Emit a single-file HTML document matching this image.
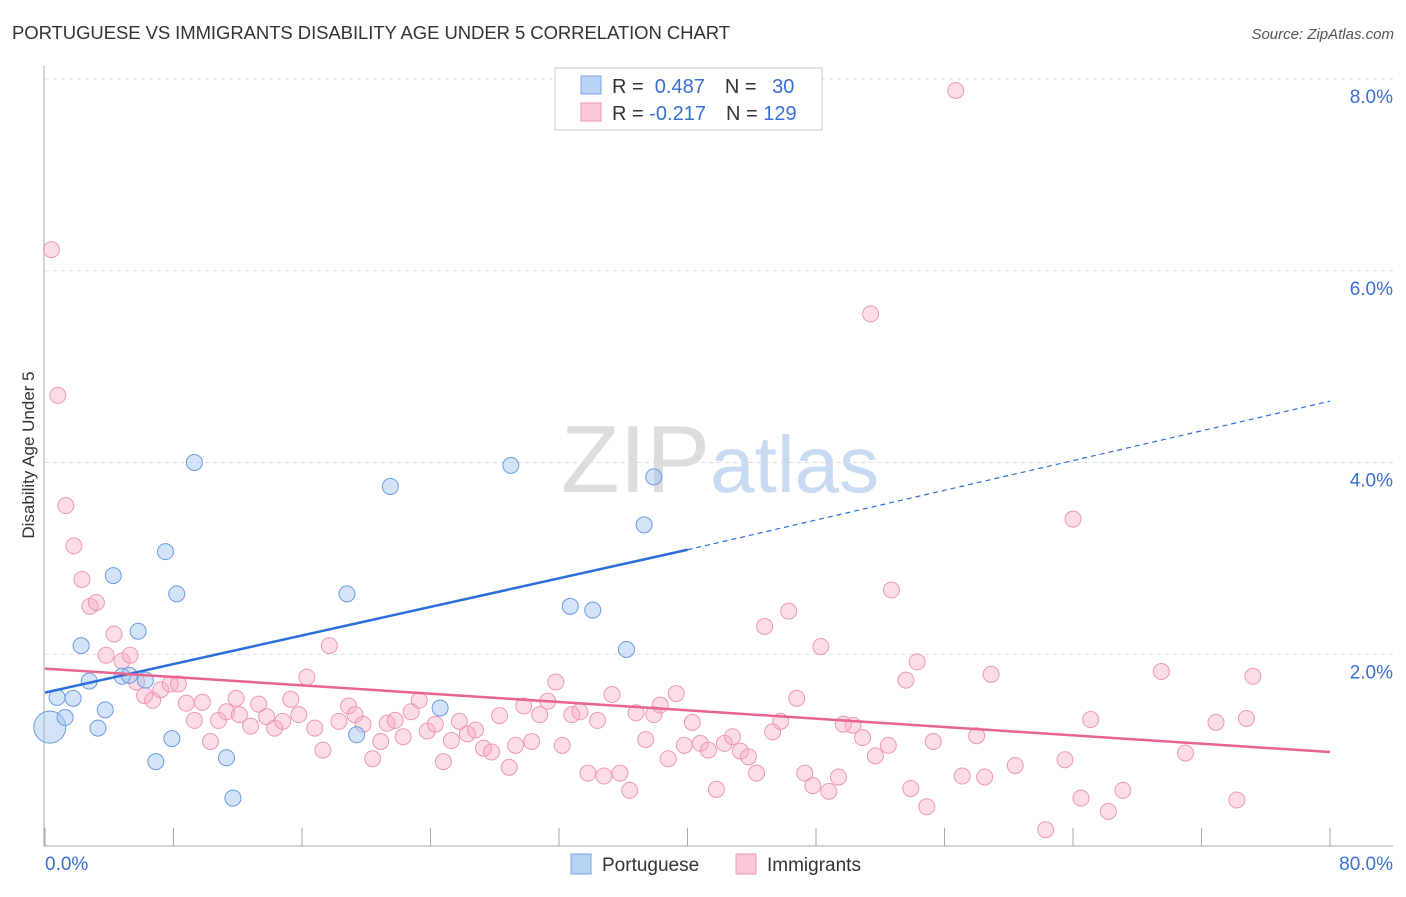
<!DOCTYPE html>
<html><head><meta charset="utf-8"><style>
body{margin:0;background:#fff;font-family:"Liberation Sans",sans-serif;}
svg text{font-family:"Liberation Sans",sans-serif;}
</style></head><body>
<svg id="chart" width="1406" height="892" viewBox="0 0 1406 892">
<text x="12" y="39" font-size="18.5" fill="#333" textLength="718">PORTUGUESE VS IMMIGRANTS DISABILITY AGE UNDER 5 CORRELATION CHART</text>
<text x="1394" y="39" font-size="15" fill="#555" text-anchor="end" font-style="italic">Source: ZipAtlas.com</text>
<text x="720" y="492" font-size="96" fill="#ddd" text-anchor="middle" font-family="Liberation Serif">ZIP<tspan fill="#c9daf3" font-family="Liberation Sans" font-size="80">atlas</tspan></text>
<g id="grid"></g>
<g id="axes"></g>
<text transform="translate(34,455) rotate(-90)" font-size="17" fill="#333" text-anchor="middle">Disability Age Under 5</text>
<g id="pts"></g>
<g id="lines"></g>
<g>
<rect x="555" y="68" width="267" height="62" fill="#fff" stroke="#ccc"/>
<rect x="581" y="76" width="20" height="18" fill="#b8d3f5" stroke="#7aa6e0"/>
<rect x="581" y="103" width="20" height="18" fill="#fbc9d8" stroke="#ee9ab5"/>
<text x="612" y="93" font-size="20" fill="#333">R = <tspan fill="#3a6fd6">&#160;0.487</tspan><tspan dx="20">N = </tspan><tspan fill="#3a6fd6" dx="10">30</tspan></text>
<text x="612" y="120" font-size="20" fill="#333">R = <tspan fill="#3a6fd6">-0.217</tspan><tspan dx="20">N = </tspan><tspan fill="#3a6fd6">129</tspan></text>
</g>
<g>
<rect x="571" y="854" width="20" height="20" fill="#b8d3f5" stroke="#7aa6e0"/>
<text x="602" y="871" font-size="19" fill="#333">Portuguese</text>
<rect x="736" y="854" width="20" height="20" fill="#fbc9d8" stroke="#ee9ab5"/>
<text x="767" y="871" font-size="19" fill="#333">Immigrants</text>
</g>
</svg>
<script>
const xTicks=[0,80];
const yTicks=[2,4,6,8];
const portX=[0.3,0.75,1.25,1.75,2.25,2.75,3.3,3.75,4.25,4.8,5.25,5.8,6.25,6.9,7.5,7.9,8.2,9.3,11.3,11.7,18.8,19.4,21.5,24.6,29,32.7,34.1,36.2,37.3,37.9];
const portY=[1.24,1.55,1.34,1.54,2.09,1.72,1.23,1.42,2.82,1.77,1.78,2.24,1.73,0.88,3.07,1.12,2.63,4.0,0.92,0.5,2.63,1.16,3.75,1.44,3.97,2.5,2.46,2.05,3.35,3.85];
const immX=[0.4,0.8,1.3,1.8,2.3,2.8,3.2,3.8,4.3,4.8,5.3,5.7,6.2,6.7,7.2,7.8,8.3,8.8,9.3,9.8,10.3,10.8,11.3,11.9,12.1,12.8,13.3,13.8,14.3,14.8,15.3,15.8,16.3,16.8,17.3,17.7,18.3,18.9,19.3,19.8,20.4,20.9,21.3,21.8,22.3,22.8,23.3,23.8,24.3,24.8,25.3,25.8,26.3,26.8,27.3,27.8,28.3,28.9,29.3,29.8,30.3,30.8,31.3,31.8,32.2,32.8,33.3,33.8,34.4,34.8,35.3,35.8,36.4,36.8,37.4,37.9,38.3,38.8,39.3,39.8,40.3,40.8,41.3,41.8,42.3,42.8,43.3,43.8,44.3,44.8,45.3,45.8,46.3,46.8,47.3,47.8,48.3,48.8,49.4,50.3,49.7,50.9,51.4,51.7,52.5,52.7,53.6,53.9,54.3,54.9,55.3,56.7,57.1,58.0,58.5,58.9,60.4,62.3,63.5,64.0,64.5,65.1,66.2,67.1,69.5,71.0,72.9,74.2,74.8,75.2];
const immY=[6.22,4.7,3.55,3.13,2.78,2.5,2.54,1.99,2.21,1.93,1.99,1.71,1.57,1.52,1.63,1.69,1.69,1.49,1.31,1.50,1.09,1.31,1.40,1.54,1.37,1.25,1.48,1.35,1.23,1.30,1.53,1.37,1.76,1.23,1.00,2.09,1.30,1.46,1.37,1.27,0.91,1.09,1.28,1.31,1.14,1.40,1.52,1.20,1.27,0.88,1.10,1.30,1.17,1.21,1.02,0.98,1.36,0.82,1.05,1.46,1.09,1.37,1.51,1.71,1.05,1.37,1.40,0.76,1.31,0.73,1.58,0.76,0.58,1.39,1.11,1.37,1.47,0.91,1.59,1.05,1.29,1.07,1.00,0.59,1.07,1.14,0.99,0.93,0.76,2.29,1.19,1.30,2.45,1.54,0.76,0.63,2.08,0.57,0.72,1.26,1.27,1.13,5.55,0.94,1.05,2.67,1.73,0.60,1.92,0.41,1.09,7.88,0.73,1.15,0.72,1.79,0.84,0.17,0.90,3.41,0.50,1.32,0.36,0.58,1.82,0.97,1.29,0.48,1.33,1.77];
const portLine=[[0,1.6],[40,3.09],[80,4.64]];
const immLine=[[0,1.85],[80,0.98]];
const NS="http://www.w3.org/2000/svg";
const X0=45,X1=1330,Y0=846,Y8=79;
const sx=v=>X0+(v/80)*(X1-X0);
const sy=v=>Y0-(v/8)*(Y0-Y8);
function mk(t,a,p){const e=document.createElementNS(NS,t);for(const k in a)e.setAttribute(k,a[k]);document.getElementById(p).appendChild(e);return e;}
yTicks.forEach(v=>{
 const g=mk('line',{x1:45,x2:1393,y1:sy(v),y2:sy(v),stroke:'#ddd','stroke-dasharray':'4,4'},'grid');
 
 
 const t=mk('text',{x:1393,y:sy(v)+24,'font-size':19,fill:'#3a6fd6','text-anchor':'end'},'axes');
 t.textContent=v.toFixed(1)+'%';
 
 
});
mk('line',{x1:45,x2:1393,y1:sy(8),y2:sy(8),stroke:'#ddd','stroke-dasharray':'4,4'},'grid');
mk('line',{x1:44,x2:44,y1:66,y2:846,stroke:'#aaa'},'axes');
mk('line',{x1:44,x2:1393,y1:846,y2:846,stroke:'#aaa'},'axes');
for(let i=0;i<=10;i++){const l=mk('line',{x1:sx(i*8),x2:sx(i*8),y1:828,y2:846,stroke:'#aaa'},'axes');
 
 }
xTicks.forEach((v,i)=>{const t=mk('text',{x:i?1393:45,y:870,'font-size':19,fill:'#3a6fd6','text-anchor':i?'end':'start'},'axes');
 t.textContent=v.toFixed(1)+'%';
 
 });
immX.forEach((v,i)=>{const c=mk('circle',{cx:sx(v),cy:sy(immY[i]),r:8,fill:'rgba(248,170,195,0.4)',stroke:'#eb99b4','stroke-width':1},'pts');
 
 });
portX.forEach((v,i)=>{const c=mk('circle',{cx:sx(v),cy:sy(portY[i]),r:i===0?16:8,fill:'rgba(160,195,240,0.45)',stroke:'#6b9be0','stroke-width':1},'pts');
 
 });
const a=mk('line',{x1:sx(portLine[0][0]),y1:sy(portLine[0][1]),x2:sx(portLine[1][0]),y2:sy(portLine[1][1]),stroke:'#2a6fd8','stroke-width':2.5},'lines');


const b=mk('line',{x1:sx(portLine[1][0]),y1:sy(portLine[1][1]),x2:sx(portLine[2][0]),y2:sy(portLine[2][1]),stroke:'#2a6fd8','stroke-width':1.2,'stroke-dasharray':'5,4'},'lines');


const c=mk('line',{x1:sx(immLine[0][0]),y1:sy(immLine[0][1]),x2:sx(immLine[1][0]),y2:sy(immLine[1][1]),stroke:'#e8648f','stroke-width':2.5},'lines');


</script>
</body></html>
